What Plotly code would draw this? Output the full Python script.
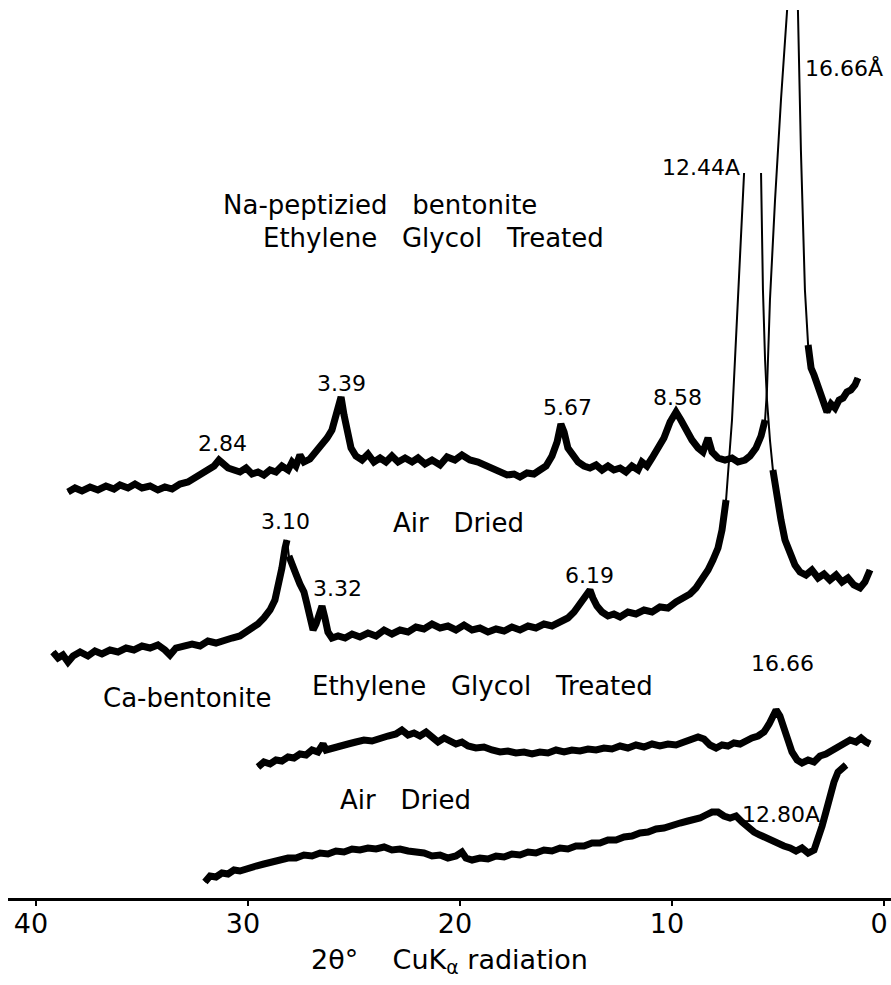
import plotly.graph_objects as go

# ---------------- data (2-theta in degrees, intensity in chart units) ----------------
na_eg_2theta = [38.49, 38.16, 37.83, 37.45, 37.08, 36.70, 36.32, 36.04, 35.66, 35.33, 35.00, 34.62, 34.25,
                33.92, 33.58, 33.21, 32.83, 32.50, 32.17, 31.89, 31.60, 31.37, 31.18, 30.94, 30.66, 30.38,
                30.09, 29.81, 29.53, 29.25, 28.96, 28.68, 28.40, 28.11, 27.92, 27.74, 27.55, 27.36, 27.08,
                26.79, 26.51, 26.27, 26.04, 25.85, 25.71, 25.61, 25.47, 25.33, 25.14, 24.91, 24.62, 24.34,
                24.06, 23.77, 23.49, 23.21, 22.92, 22.59, 22.26, 21.98, 21.65, 21.32, 20.94, 20.61, 20.24,
                19.91, 19.53, 19.15, 18.77, 18.44, 18.11, 17.78, 17.45, 17.17, 16.84, 16.51, 16.23, 15.94,
                15.66, 15.42, 15.24, 15.09, 14.91, 14.67, 14.43, 14.15, 13.87, 13.58, 13.30, 13.02, 12.74,
                12.45, 12.17, 11.89, 11.60, 11.42, 11.18, 10.94, 10.66, 10.38, 10.09, 9.81, 9.58, 9.34,
                9.06, 8.77, 8.54, 8.30, 8.11, 7.83, 7.50, 7.17, 6.89, 6.56, 6.32, 6.04, 5.80, 5.61, 5.52,
                5.38, 5.14, 4.86, 4.58, 4.18, 4.06, 3.92, 3.73, 3.58, 3.44, 3.30, 3.11, 2.97, 2.83, 2.69,
                2.50, 2.31, 2.12, 1.93, 1.75, 1.56, 1.37, 1.23]
na_eg_int = [406, 410, 407, 411, 408, 412, 409, 413, 410, 414, 410, 412, 408,
             411, 409, 414, 416, 420, 424, 428, 432, 438, 435, 430, 428, 426,
             430, 424, 426, 423, 428, 426, 432, 428, 436, 432, 443, 436, 439,
             446, 452, 460, 468, 483, 494, 501, 483, 466, 450, 442, 438, 444,
             436, 440, 436, 442, 436, 440, 436, 440, 434, 438, 433, 441, 438,
             443, 438, 436, 432, 428, 426, 423, 424, 421, 425, 424, 428, 432,
             442, 456, 474, 466, 450, 442, 436, 432, 430, 433, 428, 432, 428,
             430, 426, 432, 428, 436, 432, 440, 450, 460, 476, 486, 478, 468,
             458, 450, 446, 460, 446, 440, 438, 440, 436, 438, 442, 450, 462, 478, 508,
             598, 698, 798, 885, 1009, 888, 748, 608, 553, 530, 523, 510, 502, 490, 486,
             494, 490, 498, 500, 506, 508, 513, 520]

na_ad_2theta = [39.20, 38.96, 38.73, 38.49, 38.25, 37.92, 37.55, 37.22, 36.89, 36.51, 36.13, 35.75, 35.38,
                35.00, 34.62, 34.25, 33.92, 33.68, 33.40, 33.02, 32.64, 32.26, 31.89, 31.51, 31.13, 30.75,
                30.38, 30.09, 29.81, 29.53, 29.25, 28.96, 28.73, 28.54, 28.40, 28.25, 28.16, 28.07, 27.92,
                27.74, 27.55, 27.36, 27.22, 27.08, 26.93, 26.79, 26.60, 26.51, 26.37, 26.23, 26.04, 25.75,
                25.42, 25.09, 24.72, 24.34, 23.96, 23.58, 23.21, 22.83, 22.45, 22.08, 21.70, 21.32, 20.94,
                20.57, 20.19, 19.81, 19.43, 19.06, 18.68, 18.30, 17.92, 17.55, 17.17, 16.79, 16.42, 16.04,
                15.66, 15.28, 14.91, 14.62, 14.39, 14.20, 14.01, 13.87, 13.73, 13.54, 13.30, 13.02, 12.74,
                12.45, 12.08, 11.70, 11.32, 10.94, 10.57, 10.19, 9.81, 9.43, 9.15, 8.87, 8.58, 8.30, 8.07,
                7.83, 7.64, 7.45, 7.31, 7.17, 7.03, 6.89, 6.75, 6.60, None, 5.80, 5.71, 5.61, 5.52, 5.38,
                5.24, 5.05, 4.86, 4.67, 4.43, 4.20, 3.96, 3.68, 3.40, 3.11, 2.83, 2.55, 2.26, 1.98, 1.70,
                1.42, 1.13, 0.90, 0.66]
na_ad_int = [246, 240, 243, 236, 242, 246, 242, 247, 244, 248, 246, 250, 248,
             252, 250, 253, 248, 243, 250, 252, 254, 252, 257, 255, 258, 260,
             262, 266, 270, 274, 280, 288, 298, 313, 330, 350, 358, 342, 332,
             324, 314, 306, 294, 280, 268, 274, 288, 292, 280, 266, 260, 262,
             260, 264, 261, 265, 262, 268, 264, 268, 266, 271, 269, 274, 270,
             272, 268, 273, 268, 270, 266, 269, 267, 271, 268, 272, 270, 274,
             272, 277, 280, 286, 292, 298, 304, 308, 300, 292, 286, 282, 284,
             281, 286, 284, 288, 286, 291, 290, 296, 300, 304, 310, 318, 328, 338,
             350, 368, 398, 438, 478, 538, 598, 658, 725, None, 725, 608, 538, 498, 458,
             428, 398, 378, 358, 343, 333, 326, 323, 328, 320, 324, 318, 323, 316, 320,
             313, 310, 316, 328]

ca_eg_2theta = [29.53, 29.25, 28.96, 28.68, 28.40, 28.11, 27.83, 27.55, 27.26, 26.98, 26.70, 26.46, 26.32,
                26.04, 25.66, 25.28, 24.91, 24.53, 24.15, 23.77, 23.40, 23.02, 22.74, 22.45, 22.17, 21.89,
                21.60, 21.32, 21.04, 20.75, 20.47, 20.19, 19.91, 19.62, 19.25, 18.87, 18.49, 18.11, 17.74,
                17.36, 16.98, 16.60, 16.23, 15.85, 15.47, 15.09, 14.72, 14.34, 13.96, 13.58, 13.21, 12.83,
                12.45, 12.08, 11.70, 11.32, 10.94, 10.57, 10.19, 9.81, 9.43, 9.06, 8.77, 8.49, 8.21, 7.92,
                7.64, 7.36, 7.08, 6.79, 6.51, 6.23, 5.94, 5.66, 5.42, 5.24, 5.09, 4.91, 4.72, 4.53, 4.34,
                4.10, 3.87, 3.58, 3.30, 3.02, 2.74, 2.45, 2.17, 1.89, 1.60, 1.32, 1.08, 0.85, 0.66]
ca_eg_int = [131, 136, 134, 138, 137, 141, 140, 144, 143, 148, 146, 154, 148,
             150, 152, 154, 156, 158, 157, 160, 162, 164, 168, 163, 165, 162,
             166, 161, 156, 160, 157, 154, 156, 152, 150, 151, 148, 146, 147,
             145, 146, 144, 146, 145, 148, 146, 148, 147, 149, 148, 150, 149,
             152, 150, 153, 151, 154, 152, 154, 153, 156, 158, 161, 159, 153, 150,
             153, 152, 155, 154, 158, 160, 162, 166, 174, 182, 188, 182, 172, 158, 146,
             138, 135, 138, 136, 142, 144, 148, 150, 154, 158, 156, 160, 156, 154]

ca_ad_2theta = [32.03, 31.79, 31.51, 31.23, 30.94, 30.66, 30.38, 30.00, 29.62, 29.25, 28.87, 28.49, 28.11,
                27.74, 27.36, 26.98, 26.60, 26.23, 25.85, 25.47, 25.09, 24.72, 24.34, 23.96, 23.58, 23.21,
                22.83, 22.45, 22.08, 21.70, 21.32, 20.94, 20.57, 20.19, 19.91, 19.72, 19.43, 19.06, 18.68,
                18.30, 17.92, 17.55, 17.17, 16.79, 16.42, 16.04, 15.66, 15.28, 14.91, 14.53, 14.15, 13.77,
                13.40, 13.02, 12.64, 12.26, 11.89, 11.51, 11.13, 10.75, 10.38, 10.00, 9.62, 9.25, 8.96,
                8.68, 8.40, 8.11, 7.83, 7.55, 7.26, 6.98, 6.70, 6.42, 6.13, 5.85, 5.57, 5.28, 5.00, 4.72,
                4.43, 4.15, 3.87, 3.58, 3.30, 3.11, 2.92, 2.74, 2.55, 2.36, 2.17, 1.98, 1.79]
ca_ad_int = [16, 22, 21, 25, 24, 28, 27, 30, 32, 34, 36, 37, 40,
             40, 43, 42, 45, 44, 47, 46, 49, 48, 50, 49, 51, 48,
             49, 47, 46, 45, 42, 43, 40, 42, 46, 40, 38, 40, 39,
             42, 41, 44, 43, 46, 45, 48, 47, 50, 49, 52, 52, 55,
             55, 58, 58, 61, 62, 65, 66, 69, 70, 73, 75, 77, 78,
             80, 83, 86, 86, 82, 80, 82, 76, 70, 66, 63, 60, 57, 55, 52,
             50, 47, 50, 45, 48, 58, 72, 86, 103, 116, 126, 130, 133]

tick_values = [40, 30, 20, 10, 0]
tick_labels = ["40", "30", "20", "10", "0"]

SP = "\u00a0\u00a0\u00a0"
# labels: text, 2theta position, intensity position
label_text = ["16.66Å", "12.44A", "Na-peptizied" + SP + "bentonite",
              "Ethylene" + SP + "Glycol" + SP + "Treated",
              "3.39", "2.84", "5.67", "8.58", "3.10", "Air" + SP + "Dried", "3.32", "6.19",
              "Ca-bentonite", "Ethylene" + SP + "Glycol" + SP + "Treated", "16.66",
              "Air" + SP + "Dried", "12.80A"]
label_2theta = [1.89, 8.63, 23.77, 21.27, 25.57, 31.18, 14.91, 9.72, 28.25, 20.09, 25.80, 13.87,
                32.88, 18.96, 4.81, 22.59, 4.85]
label_int = [830, 731, 693, 660, 515, 455, 491, 501, 377, 375, 310, 323, 200, 212, 235, 98, 84]
label_big = [False, False, True, True, False, False, False, False, False, True, False, False,
             True, True, False, True, False]

# ---------------- styling ----------------
FONT = "DejaVu Sans"
INK = "black"
PX_PER_DEG = 21.2      # horizontal pixels per degree, used to judge steepness
STEEP = 8.0            # segments steeper than this are drawn with a thin pen
THICK_W = 7
THIN_W = 2


def flat_parts(x, y):
    """Return the non-steep segments of a trace (None-separated)."""
    tx, ty = [], []
    for i in range(len(x) - 1):
        x0, y0, x1, y1 = x[i], y[i], x[i + 1], y[i + 1]
        if x0 is None or x1 is None:
            tx.append(None); ty.append(None)
            continue
        slope = abs(y1 - y0) / (abs(x1 - x0) * PX_PER_DEG + 1e-9)
        if slope < STEEP:
            if not (tx and tx[-1] == x0 and ty[-1] == y0):
                tx.append(x0); ty.append(y0)
            tx.append(x1); ty.append(y1)
        else:
            tx.append(None); ty.append(None)
    return tx, ty


fig = go.Figure()
series = [(na_eg_2theta, na_eg_int), (na_ad_2theta, na_ad_int),
          (ca_eg_2theta, ca_eg_int), (ca_ad_2theta, ca_ad_int)]
for xs, ys in series:
    fig.add_trace(go.Scatter(x=xs, y=ys, mode="lines", connectgaps=False,
                             line=dict(color=INK, width=THIN_W), hoverinfo="skip"))
    fx, fy = flat_parts(xs, ys)
    fig.add_trace(go.Scatter(x=fx, y=fy, mode="lines", connectgaps=False,
                             line=dict(color=INK, width=THICK_W, shape="linear"), hoverinfo="skip"))

for t, xv, yv, b in zip(label_text, label_2theta, label_int, label_big):
    fig.add_annotation(x=xv, y=yv, text=t, showarrow=False, xanchor="center", yanchor="middle",
                       font=dict(family=FONT, size=26 if b else 22, color=INK))

fig.update_layout(
    width=891, height=985,
    margin=dict(l=8, r=0, t=10, b=87, pad=0, autoexpand=False),
    paper_bgcolor="white", plot_bgcolor="white",
    showlegend=False,
    xaxis=dict(range=[41.32, -0.33], showgrid=False, zeroline=False, automargin=False,
               showline=True, linecolor=INK, linewidth=3,
               ticks="outside", ticklen=5, tickwidth=2, tickcolor=INK,
               tickvals=tick_values, ticktext=tick_labels,
               ticklabeloverflow="allow", ticklabelstandoff=-5, ticklabelshift=5,
               tickfont=dict(family=FONT, size=27, color=INK),
               title=dict(text="2θ°" + SP + "\u00a0CuK<sub>α</sub>\u00a0radiation",
                          font=dict(family=FONT, size=27, color=INK), standoff=12)),
    yaxis=dict(range=[0, 888], visible=False, showgrid=False, zeroline=False),
)

fig.write_html("out.html")
